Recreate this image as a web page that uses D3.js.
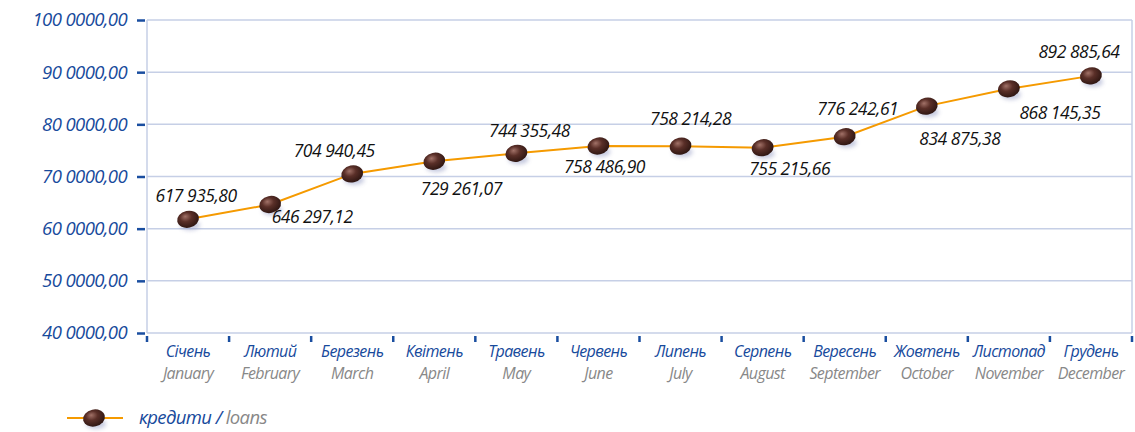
<!DOCTYPE html>
<html>
<head>
<meta charset="utf-8">
<script src="https://cdn.jsdelivr.net/npm/d3@7"></script>
<style>
  body { margin: 0; background: #fff; }
  svg { display: block; }
  text { font-family: "Open Sans", "Noto Sans", sans-serif; font-style: italic; }
</style>
</head>
<body>
<svg></svg>
<script>
var months_ua = ["Січень", "Лютий", "Березень", "Квітень", "Травень", "Червень",
                 "Липень", "Серпень", "Вересень", "Жовтень", "Листопад", "Грудень"];
var months_en = ["January", "February", "March", "April", "May", "June",
                 "July", "August", "September", "October", "November", "December"];
var loans = [617935.80, 646297.12, 704940.45, 729261.07, 744355.48, 758486.90,
             758214.28, 755215.66, 776242.61, 834875.38, 868145.35, 892885.64];
var loanLabels = ["617 935,80", "646 297,12", "704 940,45", "729 261,07", "744 355,48", "758 486,90",
                  "758 214,28", "755 215,66", "776 242,61", "834 875,38", "868 145,35", "892 885,64"];
var yTicks = [400000, 500000, 600000, 700000, 800000, 900000, 1000000];
var yTickLabels = ["40 0000,00", "50 0000,00", "60 0000,00", "70 0000,00", "80 0000,00", "90 0000,00", "100 0000,00"];

// label placement relative to the point (dx, dy of text centre)
var labelOffsets = [[8, -23], [42, 12], [-18, -23], [27, 28], [13, -22], [6, 21],
                    [10, -27], [27, 21], [13, -28], [33, 33], [51, 24], [-12, -24]];

var margin = {top: 20, right: 3, bottom: 99, left: 147};
var width = 1135, height = 432;
var visWidth = width - margin.left - margin.right;
var visHeight = height - margin.top - margin.bottom;

var svg = d3.select("svg").attr("width", width).attr("height", height);

var defs = svg.append("defs");
var grad = defs.append("radialGradient").attr("id", "bean")
    .attr("cx", "45%").attr("cy", "40%").attr("r", "60%").attr("fx", "40%").attr("fy", "30%");
grad.append("stop").attr("offset", "0%").attr("stop-color", "#a27268");
grad.append("stop").attr("offset", "45%").attr("stop-color", "#5a2f28");
grad.append("stop").attr("offset", "100%").attr("stop-color", "#2e1612");
defs.append("filter").attr("id", "blur").attr("x", "-50%").attr("y", "-50%")
    .attr("width", "200%").attr("height", "200%")
    .append("feGaussianBlur").attr("stdDeviation", 2.2);

var g = svg.append("g").attr("transform", "translate(" + margin.left + "," + margin.top + ")");

var x = d3.scaleBand().domain(months_en).range([0, visWidth]);
var y = d3.scaleLinear().domain([400000, 1000000]).range([visHeight, 0]);

// grid
g.selectAll(".grid").data(yTicks).enter().append("line")
    .attr("x1", 0).attr("x2", visWidth)
    .attr("y1", function(d) { return y(d); }).attr("y2", function(d) { return y(d); })
    .attr("stroke", "#c6cfe6").attr("stroke-width", 1.5);
g.append("line").attr("x1", 0).attr("x2", 0).attr("y1", 0).attr("y2", visHeight)
    .attr("stroke", "#c6cfe6").attr("stroke-width", 1.5);
g.append("line").attr("x1", visWidth).attr("x2", visWidth).attr("y1", 0).attr("y2", visHeight)
    .attr("stroke", "#c6cfe6").attr("stroke-width", 1.5);

// y axis
var yAxis = d3.axisLeft(y).tickValues(yTicks).tickSize(8).tickPadding(10)
    .tickFormat(function(d, i) { return yTickLabels[i]; });
var ya = g.append("g").attr("transform", "translate(-2,0)").call(yAxis);
ya.select(".domain").remove();
ya.selectAll(".tick line").attr("stroke", "#1a4ea0").attr("stroke-width", 2.5);
ya.selectAll(".tick text").attr("fill", "#174a9c").attr("font-size", 18.5)
    .style("font-family", "'Open Sans', sans-serif").style("font-style", "italic")
    .attr("letter-spacing", -0.6);

// x axis ticks on band boundaries
var bounds = months_en.map(function(m) { return x(m); }).concat([visWidth]);
g.selectAll(".xtick").data(bounds).enter().append("line")
    .attr("x1", function(d) { return d; }).attr("x2", function(d) { return d; })
    .attr("y1", visHeight + 3).attr("y2", visHeight + 9)
    .attr("stroke", "#1a4ea0").attr("stroke-width", 2.5);

g.selectAll(".xua").data(months_ua).enter().append("text")
    .attr("x", function(d, i) { return x(months_en[i]) + x.bandwidth() / 2; })
    .attr("y", visHeight + 24)
    .attr("text-anchor", "middle").attr("fill", "#174a9c").attr("font-size", 16)
    .attr("letter-spacing", -0.6)
    .text(function(d) { return d; });
g.selectAll(".xen").data(months_en).enter().append("text")
    .attr("x", function(d) { return x(d) + x.bandwidth() / 2; })
    .attr("y", visHeight + 46)
    .attr("text-anchor", "middle").attr("fill", "#888").attr("font-size", 16)
    .attr("letter-spacing", -0.6)
    .text(function(d) { return d; });

// line
var line = d3.line()
    .x(function(d, i) { return x(months_en[i]) + x.bandwidth() / 2; })
    .y(function(d) { return y(d); });
g.append("path").datum(loans).attr("d", line)
    .attr("fill", "none").attr("stroke", "#f59a00").attr("stroke-width", 2);

function bean(sel) {
    sel.append("ellipse").attr("cx", 2).attr("cy", 6).attr("rx", 10).attr("ry", 5)
        .attr("fill", "#8088b8").attr("opacity", 0.45).attr("filter", "url(#blur)");
    sel.append("ellipse").attr("cx", 0).attr("cy", 0).attr("rx", 11).attr("ry", 8.5)
        .attr("transform", "rotate(-12)")
        .attr("fill", "url(#bean)");
}

var pts = g.selectAll(".pt").data(loans).enter().append("g")
    .attr("transform", function(d, i) {
        return "translate(" + (x(months_en[i]) + x.bandwidth() / 2) + "," + y(d) + ")";
    });
pts.each(function() { bean(d3.select(this)); });

g.selectAll(".lbl").data(loans).enter().append("text")
    .attr("x", function(d, i) { return x(months_en[i]) + x.bandwidth() / 2 + labelOffsets[i][0]; })
    .attr("y", function(d, i) { return y(d) + labelOffsets[i][1] + 6; })
    .attr("text-anchor", "middle").attr("fill", "#111").attr("font-size", 17.5)
    .attr("letter-spacing", -0.5)
    .text(function(d, i) { return loanLabels[i]; });

// legend
var lg = svg.append("g").attr("transform", "translate(67,418)");
lg.append("line").attr("x1", 0).attr("x2", 56).attr("y1", 0).attr("y2", 0)
    .attr("stroke", "#f59a00").attr("stroke-width", 2);
bean(lg.append("g").attr("transform", "translate(27,0)"));
var lt = lg.append("text").attr("x", 72).attr("y", 6).attr("font-size", 18.5).attr("letter-spacing", -0.6);
lt.append("tspan").attr("fill", "#174a9c").text("кредити / ");
lt.append("tspan").attr("fill", "#888").text("loans");
</script>
</body>
</html>
